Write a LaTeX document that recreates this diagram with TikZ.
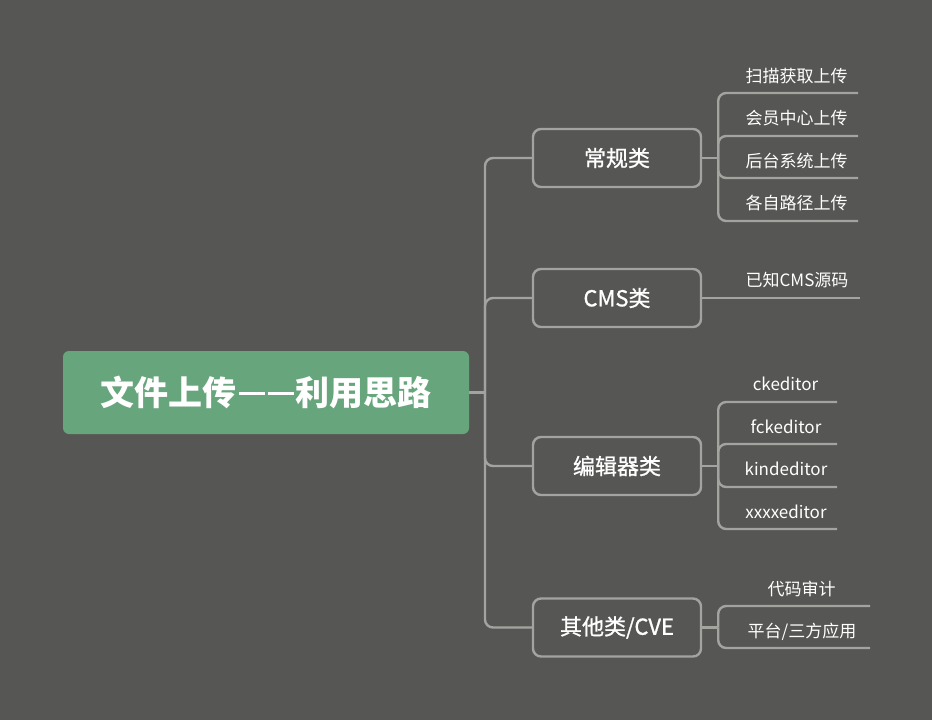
\documentclass[tikz,border=0pt]{standalone}
\usepackage{fontspec}
\newfontfamily\cjk{Noto Sans CJK SC}
\newfontfamily\cjkm[FakeBold=1]{Noto Sans CJK SC}
\usetikzlibrary{calc}
\definecolor{bgc}{HTML}{565754}
\definecolor{rootc}{HTML}{67A57C}
\definecolor{linec}{HTML}{A3A4A0}
\newcommand{\rootdash}{\raisebox{0.3em}{\rule{26pt}{3.5pt}}\hspace{3pt}\raisebox{0.3em}{\rule{26pt}{3.5pt}}}
\tikzset{
  rootbox/.style={fill=rootc, rounded corners=6pt, minimum width=406pt, minimum height=83pt, inner sep=0pt, text=white, font=\cjk\bfseries\fontsize{34}{36}\selectfont},
  catbox/.style={draw=linec, line width=2.4pt, rounded corners=8pt, minimum width=168pt, minimum height=58pt, inner sep=0pt, text=white, font=\cjkm\fontsize{22}{24}\selectfont},
  leaftext/.style={text=white, inner sep=0pt, font=\cjk\fontsize{17}{19}\selectfont},
  conn/.style={draw=linec, line width=2.4pt, rounded corners=8pt},
}
\begin{document}
\begin{tikzpicture}[x=1pt,y=-1pt]
\fill[bgc] (0,0) rectangle (932,720);
\useasboundingbox (0,0) rectangle (932,720);
% root
\node[rootbox] (root) at (266,392.5) {文件上传\hspace{2pt}\rootdash\hspace{2pt}利用思路};
% categories
\node[catbox] (c1) at (617,158) {常规类};
\node[catbox] (c2) at (617,298) {CMS类};
\node[catbox] (c3) at (617,466) {编辑器类};
\node[catbox] (c4) at (617,627.5) {其他类/CVE};
% trunk
\coordinate (j0) at (485,392.5);
\draw[conn] (root.east) -- (j0);
\draw[conn] (c1.west) -| (j0) |- (c4.west);
\draw[conn] (c2.west) -| (j0) |- (c3.west);
% leaves of c1
\coordinate (k1) at ($(c1.east)+(16,0)$);
\node[leaftext] (l11) at (796.5,76) {扫描获取上传};
\node[leaftext] (l12) at (796.5,118) {会员中心上传};
\node[leaftext] (l13) at (796.5,161) {后台系统上传};
\node[leaftext] (l14) at (796.5,203) {各自路径上传};
\coordinate (e11) at (858,93);
\coordinate (e12) at (858,136);
\coordinate (e13) at (858,178);
\coordinate (e14) at (858,221);
\draw[conn] (c1.east) -- (k1);
\draw[conn] (k1) |- (e11);
\draw[conn] (k1) |- (e12);
\draw[conn] (k1) |- (e13);
\draw[conn] (k1) |- (e14);
% leaf of c2
\node[leaftext] (l21) at (797,280) {已知CMS源码};
\coordinate (e21) at (860,298);
\draw[conn] (c2.east) -- (e21);
% leaves of c3
\coordinate (k3) at ($(c3.east)+(16,0)$);
\node[leaftext] (l31) at (785.5,384) {ckeditor};
\node[leaftext] (l32) at (786,427) {fckeditor};
\node[leaftext] (l33) at (786,469) {kindeditor};
\node[leaftext] (l34) at (786,512) {xxxxeditor};
\coordinate (e31) at (837,402);
\coordinate (e32) at (837,444);
\coordinate (e33) at (837,487);
\coordinate (e34) at (837,529);
\draw[conn] (c3.east) -- (k3);
\draw[conn] (k3) |- (e31);
\draw[conn] (k3) |- (e32);
\draw[conn] (k3) |- (e33);
\draw[conn] (k3) |- (e34);
% leaves of c4
\coordinate (k4) at ($(c4.east)+(16,0)$);
\node[leaftext] (l41) at (801.5,589) {代码审计};
\node[leaftext] (l42) at (802,632) {平台/三方应用};
\coordinate (e41) at (870,606);
\coordinate (e42) at (870,648);
\draw[conn] (c4.east) -- (k4);
\draw[conn] (k4) |- (e41);
\draw[conn] (k4) |- (e42);
\end{tikzpicture}
\end{document}
